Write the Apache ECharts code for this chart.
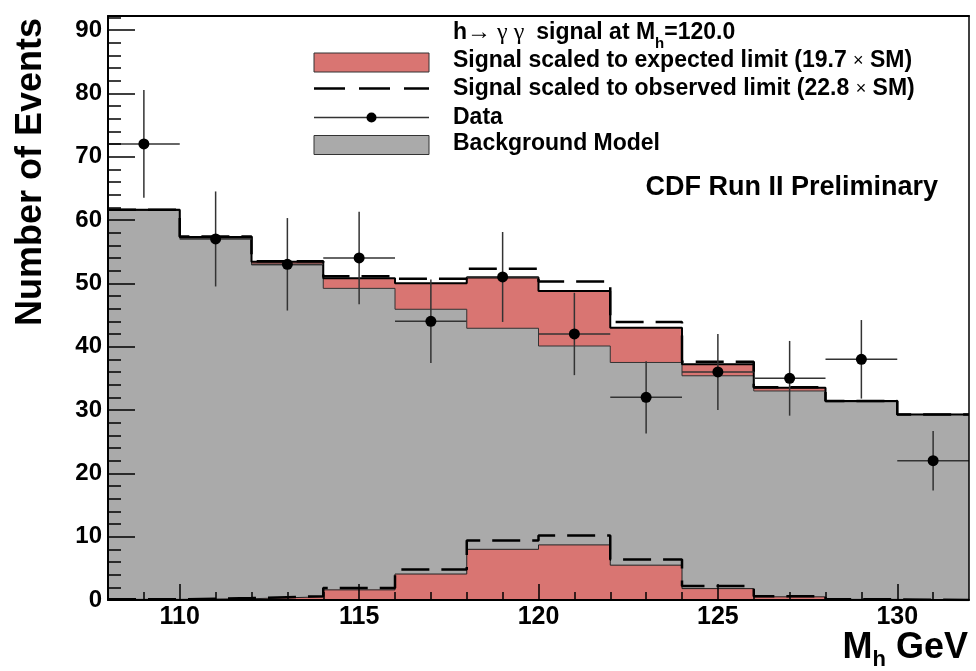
<!DOCTYPE html>
<html>
<head>
<meta charset="utf-8">
<title>h → γγ diphoton mass spectrum</title>
<script src="https://cdn.jsdelivr.net/npm/echarts@6/dist/echarts.min.js"></script>
<style>
  html, body { margin: 0; padding: 0; background: #ffffff; }
  #chart { width: 976px; height: 671px; }
</style>
</head>
<body>
<div id="chart"></div>
<script>
// Diphoton invariant mass bins (GeV), 2 GeV wide
const massCentres = [109, 111, 113, 115, 117, 119, 121, 123, 125, 127, 129, 131];
const BIN_HALF = 1;

// Background model prediction per bin
const background = [61.5, 57.1, 52.9, 49.2, 45.9, 42.9, 40.1, 37.5, 35.4, 33.0, 31.3, 29.3];
// Higgs signal (M_h = 120) scaled to the expected limit, 19.7 x SM
const signalExpected = [0.1, 0.2, 0.5, 1.6, 4.1, 8.0, 8.7, 5.5, 1.8, 0.5, 0.1, 0.0];
// Higgs signal scaled to the observed limit, 22.8 x SM
const signalObserved = [0.1, 0.3, 0.6, 1.9, 4.8, 9.4, 10.2, 6.4, 2.2, 0.6, 0.1, 0.0];
// Observed event counts and their statistical uncertainties
const dataCounts = [72, 57, 53, 54, 44, 51, 42, 32, 36, 35, 38, 22];
const dataErrors = [8.5, 7.5, 7.3, 7.3, 6.6, 7.1, 6.5, 5.7, 6.0, 5.9, 6.2, 4.7];

// Axis ticks
const xMajorTicks = [110, 115, 120, 125, 130];
const xMinorTicks = [109, 111, 112, 113, 114, 116, 117, 118, 119, 121, 122, 123, 124, 126, 127, 128, 129, 131];
const yMajorTicks = [0, 10, 20, 30, 40, 50, 60, 70, 80, 90];
const yMinorTicks = [2, 4, 6, 8, 12, 14, 16, 18, 22, 24, 26, 28, 32, 34, 36, 38, 42, 44, 46, 48,
                     52, 54, 56, 58, 62, 64, 66, 68, 72, 74, 76, 78, 82, 84, 86, 88, 92];

const RED = '#d97572';
const GREY = '#aaaaaa';
const SANS = '"Liberation Sans", Arial, Helvetica, sans-serif';
const SERIF = '"Liberation Serif", "DejaVu Serif", serif';

// Histogram outline points: left bin edges plus the final right edge, drawn with step:'end'
function stepPoints(values) {
  const pts = massCentres.map((c, i) => [c - BIN_HALF, values[i]]);
  const last = massCentres.length - 1;
  pts.push([massCentres[last] + BIN_HALF, values[last]]);
  return pts;
}
const stackedExpected = background.map((b, i) => b + signalExpected[i]);
const stackedObserved = background.map((b, i) => b + signalObserved[i]);

const measureCtx = document.createElement('canvas').getContext('2d');
function textWidth(str, font) {
  measureCtx.font = font;
  return measureCtx.measureText(str).width;
}

const chart = echarts.init(document.getElementById('chart'), null, { renderer: 'canvas' });

function histLine(name, values, opts) {
  return Object.assign({
    name: name,
    type: 'line',
    step: 'end',
    data: stepPoints(values),
    symbol: 'none',
    silent: true,
    animation: false
  }, opts);
}

const dashPattern = [28, 12];

// Header of the legend: h→γγ signal at M_h=120.0
const headFontB = 'bold 23px ' + SANS;
const headFontS = 'normal 24px ' + SERIF;
const headFontSub = 'bold 15px ' + SANS;
const headX = 453, headY = 33;
const wH = textWidth('h', headFontB);
const wArrow = textWidth('\u2192 \u03b3 \u03b3  ', headFontS);
const wSig = textWidth('signal at M', headFontB);
const wSub = textWidth('h', headFontSub);

// Axis title M_h GeV
const titleFont = 'bold 36px ' + SANS;
const titleSubFont = 'bold 22px ' + SANS;
const wM = textWidth('M', titleFont);
const wMh = textWidth('h', titleSubFont);
const wGeV = textWidth(' GeV', titleFont);
const titleRight = 968;
const titleX = titleRight - (wM + wMh + wGeV);

const graphics = [
  // legend header
  { type: 'text', x: headX, y: headY, style: { text: 'h', font: headFontB, fill: '#000', verticalAlign: 'middle' } },
  { type: 'text', x: headX + wH, y: headY, style: { text: '\u2192 \u03b3 \u03b3  ', font: headFontS, fill: '#000', verticalAlign: 'middle' } },
  { type: 'text', x: headX + wH + wArrow, y: headY, style: { text: 'signal at M', font: headFontB, fill: '#000', verticalAlign: 'middle' } },
  { type: 'text', x: headX + wH + wArrow + wSig, y: headY + 11, style: { text: 'h', font: headFontSub, fill: '#000', verticalAlign: 'middle' } },
  { type: 'text', x: headX + wH + wArrow + wSig + wSub, y: headY, style: { text: '=120.0', font: headFontB, fill: '#000', verticalAlign: 'middle' } },

  // legend entries
  { type: 'rect', shape: { x: 314, y: 53, width: 115, height: 19 }, style: { fill: RED, stroke: '#333', lineWidth: 1 } },
  { type: 'text', x: 453, y: 61, style: {
      text: '{b|Signal scaled to expected limit (19.7 }{t|\u00d7}{b| SM)}',
      rich: { b: { font: 'bold 23px ' + SANS, fill: '#000' }, t: { font: 'normal 18px ' + SANS, fill: '#000' } },
      verticalAlign: 'middle' } },
  { type: 'line', shape: { x1: 314, y1: 88.5, x2: 429, y2: 88.5 }, style: { stroke: '#000', lineWidth: 2.5, lineDash: [31, 14] } },
  { type: 'text', x: 453, y: 89, style: {
      text: '{b|Signal scaled to observed limit (22.8 }{t|\u00d7}{b| SM)}',
      rich: { b: { font: 'bold 23px ' + SANS, fill: '#000' }, t: { font: 'normal 18px ' + SANS, fill: '#000' } },
      verticalAlign: 'middle' } },
  { type: 'line', shape: { x1: 314, y1: 117.5, x2: 429, y2: 117.5 }, style: { stroke: '#333', lineWidth: 1.5 } },
  { type: 'circle', shape: { cx: 371.5, cy: 117.5, r: 5 }, style: { fill: '#000' } },
  { type: 'text', x: 453, y: 118, style: { text: 'Data', font: 'bold 23px ' + SANS, fill: '#000', verticalAlign: 'middle' } },
  { type: 'rect', shape: { x: 314, y: 135.5, width: 115, height: 19 }, style: { fill: GREY, stroke: '#333', lineWidth: 1 } },
  { type: 'text', x: 453, y: 144, style: { text: 'Background Model', font: 'bold 23px ' + SANS, fill: '#000', verticalAlign: 'middle' } },

  // experiment tag
  { type: 'text', x: 938, y: 187.5, style: { text: 'CDF Run II Preliminary', font: 'bold 27px ' + SANS, fill: '#000', align: 'right', verticalAlign: 'middle' } },

  // y-axis title, reading bottom to top
  { type: 'text', x: 31, y: 18, rotation: Math.PI / 2, style: { text: 'Number of Events', font: titleFont, fill: '#000', align: 'right', verticalAlign: 'middle' } },

  // x-axis title
  { type: 'text', x: titleX, y: 648, style: { text: 'M', font: titleFont, fill: '#000', verticalAlign: 'middle' } },
  { type: 'text', x: titleX + wM, y: 660, style: { text: 'h', font: titleSubFont, fill: '#000', verticalAlign: 'middle' } },
  { type: 'text', x: titleX + wM + wMh, y: 648, style: { text: ' GeV', font: titleFont, fill: '#000', verticalAlign: 'middle' } }
];

const X_MIN = 108, X_MAX = 132, Y_MIN = 0, Y_MAX = 92.2;

const option = {
  animation: false,
  backgroundColor: '#ffffff',
  grid: { left: 108, right: 7, top: 16, bottom: 71, containLabel: false },
  xAxis: [
    {
      type: 'value', position: 'bottom', min: X_MIN, max: X_MAX, z: 10,
      axisLine: { show: true, onZero: false, lineStyle: { color: '#000', width: 2 } },
      axisTick: { show: true, inside: true, length: 16, customValues: xMajorTicks, lineStyle: { color: '#000', width: 1.5 } },
      axisLabel: { show: true, customValues: xMajorTicks, margin: 5, color: '#000', fontSize: 25, fontWeight: 'bold', fontFamily: SANS },
      splitLine: { show: false }
    },
    {
      type: 'value', position: 'bottom', min: X_MIN, max: X_MAX, z: 10,
      axisLine: { show: false, onZero: false },
      axisTick: { show: true, inside: true, length: 8, customValues: xMinorTicks, lineStyle: { color: '#000', width: 1.5 } },
      axisLabel: { show: false },
      splitLine: { show: false }
    },
    {
      type: 'value', position: 'top', min: X_MIN, max: X_MAX, z: 10,
      axisLine: { show: true, onZero: false, lineStyle: { color: '#000', width: 2 } },
      axisTick: { show: false }, axisLabel: { show: false }, splitLine: { show: false }
    }
  ],
  yAxis: [
    {
      type: 'value', position: 'left', min: Y_MIN, max: Y_MAX, z: 10,
      axisLine: { show: true, onZero: false, lineStyle: { color: '#000', width: 2 } },
      axisTick: { show: true, inside: true, length: 27, customValues: yMajorTicks, lineStyle: { color: '#000', width: 1.5 } },
      axisLabel: { show: true, customValues: yMajorTicks, margin: 6, color: '#000', fontSize: 24, fontWeight: 'bold', fontFamily: SANS },
      splitLine: { show: false }
    },
    {
      type: 'value', position: 'left', min: Y_MIN, max: Y_MAX, z: 10,
      axisLine: { show: false, onZero: false },
      axisTick: { show: true, inside: true, length: 13, customValues: yMinorTicks, lineStyle: { color: '#000', width: 1.5 } },
      axisLabel: { show: false },
      splitLine: { show: false }
    },
    {
      type: 'value', position: 'right', min: Y_MIN, max: Y_MAX, z: 10,
      axisLine: { show: true, onZero: false, lineStyle: { color: '#000', width: 1.5 } },
      axisTick: { show: false }, axisLabel: { show: false }, splitLine: { show: false }
    }
  ],
  series: [
    // background + expected signal (red band above the background)
    histLine('Background + signal (expected)', stackedExpected, {
      z: 1, lineStyle: { width: 0, opacity: 0 }, areaStyle: { color: RED, opacity: 1 }
    }),
    // background model
    histLine('Background Model', background, {
      z: 2, lineStyle: { color: '#333', width: 1 }, areaStyle: { color: GREY, opacity: 1 }
    }),
    // signal alone at expected limit
    histLine('Signal scaled to expected limit', signalExpected, {
      z: 3, lineStyle: { color: '#222', width: 1 }, areaStyle: { color: RED, opacity: 1 }
    }),
    // outline of background + expected signal
    histLine('Background + signal outline', stackedExpected, {
      z: 4, lineStyle: { color: '#000', width: 2 }
    }),
    // background + observed-limit signal
    histLine('Background + signal (observed)', stackedObserved, {
      z: 5, lineStyle: { color: '#000', width: 2.5, type: dashPattern }
    }),
    // signal alone at observed limit
    histLine('Signal scaled to observed limit', signalObserved, {
      z: 5, lineStyle: { color: '#000', width: 2.5, type: dashPattern }
    }),
    // data points with error bars
    {
      name: 'Data',
      type: 'custom',
      z: 6,
      silent: true,
      animation: false,
      data: massCentres.map((c, i) => [c, dataCounts[i], dataErrors[i]]),
      encode: { x: 0, y: 1 },
      renderItem: function (params, api) {
        const x = api.value(0), y = api.value(1), e = api.value(2);
        const c = api.coord([x, y]);
        const top = api.coord([x, y + e]);
        const bot = api.coord([x, y - e]);
        const left = api.coord([x - BIN_HALF, y]);
        const right = api.coord([x + BIN_HALF, y]);
        const barStyle = { stroke: '#333', lineWidth: 1.5 };
        return {
          type: 'group',
          children: [
            { type: 'line', shape: { x1: c[0], y1: top[1], x2: c[0], y2: bot[1] }, style: barStyle },
            { type: 'line', shape: { x1: left[0], y1: c[1], x2: right[0], y2: c[1] }, style: barStyle },
            { type: 'circle', shape: { cx: c[0], cy: c[1], r: 5.5 }, style: { fill: '#000' } }
          ]
        };
      }
    }
  ],
  graphic: { elements: graphics.map(g => Object.assign({ z: 100, silent: true }, g)) }
};

chart.setOption(option);
</script>
</body>
</html>
